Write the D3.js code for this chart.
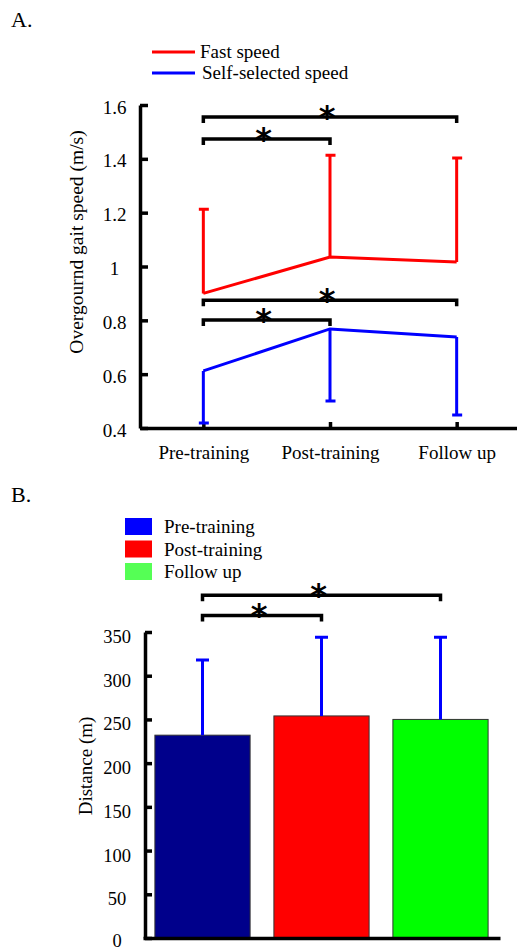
<!DOCTYPE html>
<html>
<head>
<meta charset="utf-8">
<script src="https://cdn.jsdelivr.net/npm/d3@7"></script>
<style>
  body { margin: 0; background: #fff; }
  svg text { font-family: "Liberation Serif", "DejaVu Serif", serif !important; fill: #000; }
  svg text.star { font-family: "DejaVu Sans", sans-serif !important; font-weight: bold; }
</style>
</head>
<body>
<div id="chart"></div>
<script>
// gait speed (panel A) and walking distance (panel B)
var groups = ["Pre-training", "Post-training", "Follow up"];

var fastMean = [0.90, 1.035, 1.017];
var fastSD = [0.313, 0.378, 0.386];
var selfMean = [0.612, 0.768, 0.738];
var selfSD = [0.193, 0.268, 0.29];
var speedTicks = [0.4, 0.6, 0.8, 1, 1.2, 1.4, 1.6];

var distMean = [232, 254, 250];
var distSD = [86, 90, 94];
var distTicks = [0, 50, 100, 150, 200, 250, 300, 350];

// significance brackets: group index from/to and level in data units
var sigA = [
    {from: 0, to: 2, level: 1.555},
    {from: 0, to: 1, level: 1.474},
    {from: 0, to: 2, level: 0.875},
    {from: 0, to: 1, level: 0.801}
];
var sigB = [
    {from: 0, to: 2, level: 392},
    {from: 0, to: 1, level: 369}
];

var legendA = [
    {name: "Fast speed", color: "#ff0000"},
    {name: "Self-selected speed", color: "#0000ff"}
];
var legendB = [
    {name: "Pre-training", color: "#0000ff"},
    {name: "Post-training", color: "#ff0000"},
    {name: "Follow up", color: "#55ff55"}
];
var barColors = ["#00008b", "#ff0000", "#00ff00"];

var svg = d3.select("#chart")
    .append("svg")
    .attr("width", 517)
    .attr("height", 951);

// ---------- panel A ----------
svg.append("text").attr("x", 11).attr("y", 27).style("font-size", "22px").text("A.");

var xA = d3.scalePoint().domain(groups).range([140, 520]).padding(0.5);
var yA = d3.scaleLinear().domain([0.4, 1.6]).range([428, 105]);

var gyA = svg.append("g")
    .attr("transform", "translate(140,0)")
    .call(d3.axisLeft(yA).tickValues(speedTicks).tickSize(-8).tickSizeOuter(0)
        .tickFormat(function (d) { return String(d); }));
gyA.selectAll("text")
    .attr("x", -25.5).attr("dy", "0").attr("y", 8)
    .attr("text-anchor", "middle")
    .style("font-size", "19px");

var gxA = svg.append("g")
    .attr("transform", "translate(0,428)")
    .call(d3.axisBottom(xA).tickSize(-6).tickSizeOuter(0));
gxA.selectAll("text")
    .attr("y", 31).attr("dy", "0")
    .style("font-size", "19px");

svg.append("text")
    .attr("transform", "translate(83,242) rotate(-90)")
    .attr("text-anchor", "middle")
    .style("font-size", "19.5px")
    .text("Overgournd gait speed (m/s)");

var line = d3.line()
    .x(function (d, i) { return xA(groups[i]); })
    .y(function (d) { return yA(d); });

// fast speed: error bars point up
fastMean.forEach(function (m, i) {
    var top = yA(m + fastSD[i]);
    svg.append("path")
        .attr("d", "M" + xA(groups[i]) + "," + yA(m) + "V" + top + "M" + (xA(groups[i]) - 4.5) + "," + top + "H" + (xA(groups[i]) + 5.5))
        .attr("stroke", "#ff0000").attr("stroke-width", 3).attr("fill", "none");
});
svg.append("path").datum(fastMean)
    .attr("d", line).attr("stroke", "#ff0000").attr("stroke-width", 3).attr("fill", "none");

// self-selected speed: error bars point down
selfMean.forEach(function (m, i) {
    var bot = yA(m - selfSD[i]);
    svg.append("path")
        .attr("d", "M" + xA(groups[i]) + "," + yA(m) + "V" + bot + "M" + (xA(groups[i]) - 4.5) + "," + bot + "H" + (xA(groups[i]) + 5.5))
        .attr("stroke", "#0000ff").attr("stroke-width", 3).attr("fill", "none");
});
svg.append("path").datum(selfMean)
    .attr("d", line).attr("stroke", "#0000ff").attr("stroke-width", 3).attr("fill", "none");

legendA.forEach(function (d, i) {
    var ly = 52 + i * 21;
    svg.append("line").attr("x1", 152).attr("x2", 195).attr("y1", ly).attr("y2", ly)
        .attr("stroke", d.color).attr("stroke-width", 3);
    svg.append("text").attr("x", 200 + i * 2).attr("y", ly + 6)
        .style("font-size", "19px").text(d.name);
});

function brackets(list, xpos, yscale) {
    list.forEach(function (s) {
        var x1 = xpos(s.from), x2 = xpos(s.to), yy = yscale(s.level);
        svg.append("path")
            .attr("d", "M" + x1 + "," + (yy + 6) + "V" + yy + "H" + x2 + "V" + (yy + 6))
            .attr("stroke", "#000").attr("stroke-width", 3.5).attr("fill", "none");
        svg.append("text")
            .attr("class", "star")
            .attr("x", (x1 + x2) / 2 - 3).attr("y", yy + 11)
            .attr("text-anchor", "middle")
            .style("font-size", "32px")
            .text("*");
    });
}
brackets(sigA, function (i) { return xA(groups[i]); }, yA);

// ---------- panel B ----------
svg.append("text").attr("x", 11).attr("y", 502).style("font-size", "22px").text("B.");

var xB = d3.scaleBand().domain(groups).range([143, 500]).paddingInner(0.2).paddingOuter(0.1);
var yB = d3.scaleLinear().domain([0, 350]).range([938, 632]);

svg.selectAll(".bar")
    .data(distMean)
    .enter()
    .append("rect")
    .attr("class", "bar")
    .attr("x", function (d, i) { return xB(groups[i]); })
    .attr("y", function (d) { return yB(d); })
    .attr("width", xB.bandwidth())
    .attr("height", function (d) { return yB(0) - yB(d); })
    .attr("fill", function (d, i) { return barColors[i]; })
    .attr("stroke", "#333").attr("stroke-width", 1);

distMean.forEach(function (m, i) {
    var cx = xB(groups[i]) + xB.bandwidth() / 2;
    var top = yB(m + distSD[i]);
    svg.append("path")
        .attr("d", "M" + cx + "," + yB(m) + "V" + top + "M" + (cx - 6.5) + "," + top + "H" + (cx + 6.5))
        .attr("stroke", "#0000ff").attr("stroke-width", 3).attr("fill", "none");
});

var gyB = svg.append("g")
    .attr("transform", "translate(145,0)")
    .call(d3.axisLeft(yB).tickValues(distTicks).tickSize(-7).tickSizeOuter(0));
gyB.selectAll("text")
    .attr("x", -28).attr("dy", "0")
    .attr("y", function (d) { return d === 0 ? 8 : 10.5; })
    .attr("text-anchor", "middle")
    .style("font-size", "18.5px");

svg.append("g")
    .attr("transform", "translate(0,938)")
    .call(d3.axisBottom(xB).tickValues([]).tickSizeOuter(0));

svg.append("text")
    .attr("transform", "translate(92,766) rotate(-90)")
    .attr("text-anchor", "middle")
    .style("font-size", "19px")
    .text("Distance (m)");

legendB.forEach(function (d, i) {
    var ly = 518 + i * 22.5;
    svg.append("rect").attr("x", 125).attr("y", ly).attr("width", 27).attr("height", 17)
        .attr("fill", d.color);
    svg.append("text").attr("x", 164).attr("y", ly + 15)
        .style("font-size", "19px").text(d.name);
});

brackets(sigB, function (i) { return xB(groups[i]) + xB.bandwidth() / 2; }, yB);

svg.selectAll(".domain, .tick line").attr("stroke", "#000").attr("stroke-width", 3.5);
</script>
</body>
</html>
